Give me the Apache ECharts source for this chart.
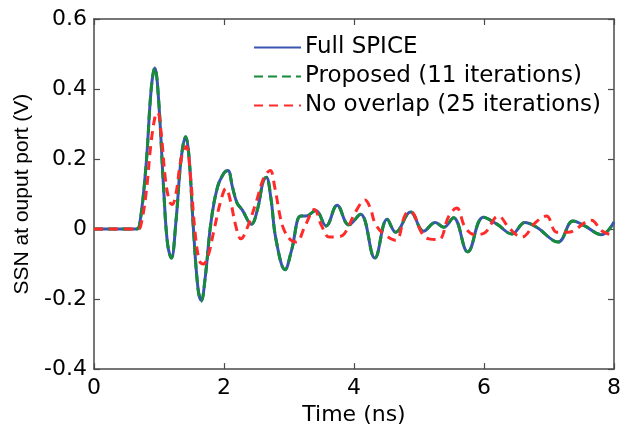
<!DOCTYPE html>
<html>
<head>
<meta charset="utf-8">
<script src="https://cdn.jsdelivr.net/npm/echarts@6/dist/echarts.min.js"></script>
<style>
  html, body { margin: 0; padding: 0; background: #fff; }
  #chart { width: 624px; height: 431px; }
</style>
</head>
<body>
<div id="chart"></div>
<script>
// 时间轴 (ns) 与各曲线数值
const spiceTime = [0, 0.65, 0.70, 0.80, 0.88, 0.935, 0.99, 1.07, 1.13, 1.19, 1.26, 1.34, 1.41, 1.46, 1.53, 1.60, 1.65, 1.71, 1.80, 1.90, 2.00, 2.06, 2.13, 2.20, 2.28, 2.42, 2.52, 2.60, 2.65, 2.72, 2.80, 2.94, 3.04, 3.18, 3.26, 3.41, 3.57, 3.74, 3.92, 4.10, 4.32, 4.51, 4.64, 4.87, 5.07, 5.25, 5.38, 5.53, 5.75, 5.99, 6.20, 6.43, 6.63, 6.81, 7.14, 7.37, 7.55, 7.81, 8.0]
const spiceValue = [0, 0, 0.01, 0.18, 0.40, 0.46, 0.38, 0.12, -0.04, -0.083, 0.02, 0.20, 0.264, 0.21, 0.0, -0.17, -0.204, -0.14, 0.02, 0.12, 0.16, 0.167, 0.12, 0.075, 0.055, 0.014, 0.06, 0.135, 0.148, 0.09, -0.03, -0.116, -0.06, 0.037, 0.037, 0.053, 0.009, 0.068, 0.012, 0.042, -0.083, 0.028, -0.009, 0.049, -0.006, 0.019, 0.005, 0.032, -0.065, 0.034, 0.014, -0.014, 0.019, 0.005, -0.037, 0.023, 0.009, -0.016, 0.02]
const proposedValue = [0, 0, 0.01, 0.18, 0.40, 0.46, 0.38, 0.12, -0.04, -0.083, 0.02, 0.20, 0.264, 0.21, 0.0, -0.17, -0.206, -0.14, 0.02, 0.12, 0.16, 0.167, 0.12, 0.075, 0.055, 0.014, 0.06, 0.135, 0.148, 0.09, -0.03, -0.116, -0.06, 0.037, 0.037, 0.053, 0.009, 0.068, 0.012, 0.042, -0.083, 0.028, -0.009, 0.049, -0.006, 0.019, 0.005, 0.032, -0.065, 0.034, 0.014, -0.014, 0.019, 0.005, -0.037, 0.023, 0.009, -0.016, 0.02]

const noOverlapTime = [0, 0.68, 0.72, 0.80, 0.88, 0.95, 0.98, 1.03, 1.10, 1.16, 1.20, 1.26, 1.34, 1.42, 1.48, 1.55, 1.62, 1.68, 1.75, 1.85, 1.95, 2.03, 2.10, 2.18, 2.26, 2.35, 2.50, 2.62, 2.71, 2.78, 2.87, 2.93, 3.02, 3.11, 3.25, 3.39, 3.50, 3.62, 3.75, 3.85, 4.03, 4.17, 4.25, 4.33, 4.46, 4.64, 4.79, 4.87, 5.05, 5.15, 5.30, 5.46, 5.58, 5.71, 5.86, 6.00, 6.22, 6.40, 6.58, 6.80, 6.96, 7.12, 7.29, 7.65, 7.81, 7.99]
const noOverlapValue = [0, 0, 0.01, 0.10, 0.25, 0.33, 0.333, 0.28, 0.14, 0.08, 0.07, 0.10, 0.20, 0.236, 0.16, 0.0, -0.09, -0.10, -0.08, 0.0, 0.08, 0.116, 0.08, 0.01, -0.028, 0.0, 0.08, 0.15, 0.167, 0.12, 0.03, -0.005, -0.03, -0.037, 0.01, 0.056, 0.01, -0.023, -0.022, -0.014, 0.051, 0.083, 0.06, 0.014, -0.014, -0.032, 0.042, 0.049, -0.014, -0.028, -0.03, 0.037, 0.06, 0.005, -0.016, -0.012, 0.037, 0.0, -0.023, 0.02, 0.037, -0.009, -0.009, 0.025, -0.005, -0.019]

const xTicks = [0, 2, 4, 6, 8]
const yTicks = [-0.4, -0.2, 0, 0.2, 0.4, 0.6]

const seriesNames = ['Full SPICE', 'Proposed (11 iterations)', 'No overlap (25 iterations)']

const pair = (ts, vs) => ts.map((t, i) => [t, vs[i]])

const font = 'DejaVu Sans'
const frame = { show: true, onZero: false, lineStyle: { color: '#4a4a4a', width: 1.5 } }
const tick = { show: true, inside: true, length: 6, lineStyle: { color: '#4a4a4a', width: 1.2 } }

const chart = echarts.init(document.getElementById('chart'), null, { renderer: 'canvas' })
chart.setOption({
  animation: false,
  backgroundColor: '#fff',
  textStyle: { fontFamily: font },
  grid: { left: 94, right: 8, top: 19, bottom: 52, containLabel: false },
  legend: {
    orient: 'vertical',
    left: 248,
    top: 31,
    itemWidth: 47,
    itemHeight: 14,
    itemGap: 6,
    itemStyle: { opacity: 0 },
    textStyle: { fontFamily: font, fontSize: 23, color: '#000', padding: [0, 0, 0, -1] },
    data: seriesNames,
  },
  xAxis: [
    {
      type: 'value',
      min: xTicks[0],
      max: xTicks[xTicks.length - 1],
      interval: 2,
      name: 'Time (ns)',
      nameLocation: 'middle',
      nameGap: 27,
      nameTextStyle: { fontFamily: font, fontSize: 22, color: '#000' },
      axisLine: frame,
      axisTick: tick,
      axisLabel: { fontFamily: font, fontSize: 22, color: '#000', margin: 8 },
      splitLine: { show: false },
    },
    {
      type: 'value',
      position: 'top',
      min: 0,
      max: 8,
      interval: 2,
      axisLine: frame,
      axisTick: tick,
      axisLabel: { show: false },
      splitLine: { show: false },
    },
  ],
  yAxis: [
    {
      type: 'value',
      min: yTicks[0],
      max: yTicks[yTicks.length - 1],
      interval: 0.2,
      name: 'SSN at ouput port (V)',
      nameLocation: 'middle',
      nameGap: 58,
      nameTextStyle: { fontFamily: 'Liberation Sans', fontSize: 21, color: '#000' },
      axisLine: frame,
      axisTick: tick,
      axisLabel: {
        fontFamily: font,
        fontSize: 22,
        color: '#000',
        margin: 7,
        formatter: (v) => (Math.abs(v) < 1e-9 ? '0' : String(Math.round(v * 10) / 10)),
      },
      splitLine: { show: false },
    },
    {
      type: 'value',
      position: 'right',
      min: -0.4,
      max: 0.6,
      interval: 0.2,
      axisLine: frame,
      axisTick: tick,
      axisLabel: { show: false },
      splitLine: { show: false },
    },
  ],
  series: [
    {
      name: seriesNames[0],
      type: 'line',
      data: pair(spiceTime, spiceValue),
      smooth: 0.4,
      symbol: 'none',
      lineStyle: { color: '#3a55b0', width: 3 },
      itemStyle: { color: '#3a55b0' },
      z: 2,
    },
    {
      name: seriesNames[1],
      type: 'line',
      data: pair(spiceTime, proposedValue),
      smooth: 0.4,
      symbol: 'none',
      lineStyle: { color: '#178a3c', width: 3, type: [9, 5] },
      itemStyle: { color: '#178a3c' },
      z: 3,
    },
    {
      name: seriesNames[2],
      type: 'line',
      data: pair(noOverlapTime, noOverlapValue),
      smooth: 0.4,
      symbol: 'none',
      lineStyle: { color: '#ff2a2a', width: 3, type: [9, 6] },
      itemStyle: { color: '#ff2a2a' },
      z: 4,
    },
  ],
})
</script>
</body>
</html>
